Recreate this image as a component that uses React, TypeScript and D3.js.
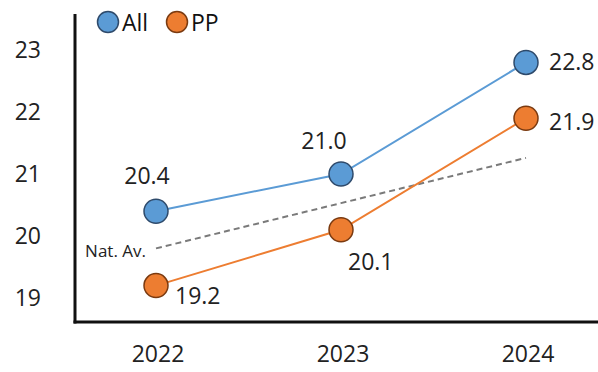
import React from "react";
import * as d3 from "d3";

const years = ["2022", "2023", "2024"];
const allValues = [20.4, 21.0, 22.8];
const ppValues = [19.2, 20.1, 21.9];
const natAvValues = [19.8, 20.53, 21.26];
const yTicks = [19, 20, 21, 22, 23];
const seriesNames = ["All", "PP"];

const W = 598;
const H = 372;
const FONT = "'Open Sans', 'Liberation Sans', sans-serif";
const BLUE = "#5B9BD5";
const BLUE_DARK = "#2E4A6B";
const ORANGE = "#ED7D31";
const ORANGE_DARK = "#7A3A10";

// label offsets (dx, dy baseline, anchor) relative to point
const allLabelPos = [
  { dx: -9, dy: -27, anchor: "middle" },
  { dx: -17, dy: -25, anchor: "middle" },
  { dx: 23, dy: 8, anchor: "start" },
];
const ppLabelPos = [
  { dx: 19, dy: 18, anchor: "start" },
  { dx: 7, dy: 40, anchor: "start" },
  { dx: 23, dy: 12, anchor: "start" },
];

export default function App() {
  const x = d3.scalePoint<string>().domain(years).range([156, 526]);
  const y = d3.scaleLinear().domain([19, 23]).range([298, 50]);
  const line = d3
    .line<number>()
    .x((_, i) => x(years[i]) as number)
    .y((d) => y(d));

  const axisX = 75;
  const axisY = 322;

  return (
    <svg
      width={W}
      height={H}
      style={{ position: "absolute", left: 0, top: 0, display: "block", background: "#fff" }}
      fontFamily={FONT}
    >
      {/* axes */}
      <line x1={axisX} y1={14} x2={axisX} y2={axisY + 1.5} stroke="#111" strokeWidth={3} />
      <line x1={axisX - 1.5} y1={axisY} x2={W} y2={axisY} stroke="#111" strokeWidth={3} />

      {/* y tick labels */}
      {yTicks.map((t) => (
        <text key={t} x={41} y={y(t)} dy="0.36em" textAnchor="end" fontSize={23} fill="#222">
          {t}
        </text>
      ))}

      {/* x tick labels */}
      {years.map((yr) => (
        <text key={yr} x={(x(yr) as number) + 2} y={362} textAnchor="middle" fontSize={23} fill="#222">
          {yr}
        </text>
      ))}

      {/* national average */}
      <path d={line(natAvValues) || ""} fill="none" stroke="#7a7a7a" strokeWidth={2} strokeDasharray="6,4" />
      <text
        x={(x(years[0]) as number) - 10}
        y={y(natAvValues[0]) + 2}
        dy="0.36em"
        textAnchor="end"
        fontSize={17}
        fill="#222"
      >
        Nat. Av.
      </text>

      {/* series lines */}
      <path d={line(allValues) || ""} fill="none" stroke={BLUE} strokeWidth={2} />
      <path d={line(ppValues) || ""} fill="none" stroke={ORANGE} strokeWidth={2} />

      {/* points */}
      {allValues.map((v, i) => (
        <circle key={"a" + i} cx={x(years[i]) as number} cy={y(v)} r={12} fill={BLUE} stroke={BLUE_DARK} strokeWidth={1.5} />
      ))}
      {ppValues.map((v, i) => (
        <circle key={"p" + i} cx={x(years[i]) as number} cy={y(v)} r={12} fill={ORANGE} stroke={ORANGE_DARK} strokeWidth={1.5} />
      ))}

      {/* value labels */}
      {allValues.map((v, i) => (
        <text
          key={"al" + i}
          x={(x(years[i]) as number) + allLabelPos[i].dx}
          y={y(v) + allLabelPos[i].dy}
          textAnchor={allLabelPos[i].anchor as any}
          fontSize={23}
          fill="#222"
        >
          {v.toFixed(1)}
        </text>
      ))}
      {ppValues.map((v, i) => (
        <text
          key={"pl" + i}
          x={(x(years[i]) as number) + ppLabelPos[i].dx}
          y={y(v) + ppLabelPos[i].dy}
          textAnchor={ppLabelPos[i].anchor as any}
          fontSize={23}
          fill="#222"
        >
          {v.toFixed(1)}
        </text>
      ))}

      {/* legend */}
      {seriesNames.map((name, i) => {
        const cx = i === 0 ? 108 : 177;
        return (
          <g key={name}>
            <circle cx={cx} cy={22} r={10.5} fill={i === 0 ? BLUE : ORANGE} stroke={i === 0 ? BLUE_DARK : ORANGE_DARK} strokeWidth={1.5} />
            <text x={cx + 14} y={31} fontSize={23} fill="#111">
              {name}
            </text>
          </g>
        );
      })}
    </svg>
  );
}
